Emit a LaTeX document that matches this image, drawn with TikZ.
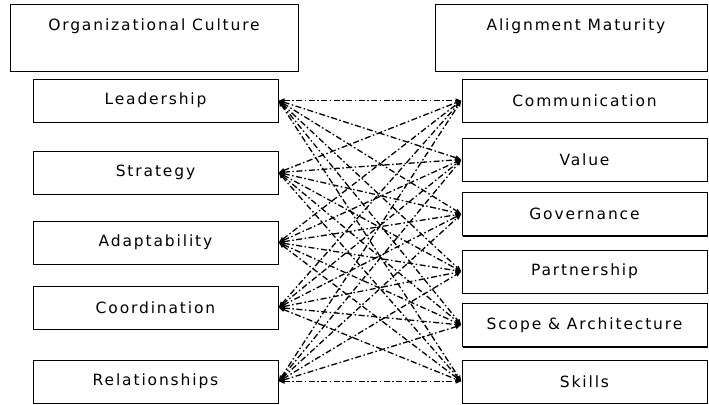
\documentclass[tikz,border=0pt]{standalone}
\usepackage{fontspec}
\setmainfont[LetterSpace=12]{DejaVu Sans}
\usetikzlibrary{arrows.meta,shadows}

\tikzset{
  itembox/.style={draw,line width=1pt,fill=white,minimum width=245pt,minimum height=43pt,
    font=\fontsize{15.5}{18}\selectfont,
    drop shadow={shadow xshift=1.2pt,shadow yshift=-1.2pt,opacity=1,fill=black}},
  headbox/.style={itembox,minimum width=288pt,minimum height=66pt},
  headtext/.style={font=\fontsize{15.5}{18}\selectfont},
  link/.style={dash pattern=on 6pt off 2.5pt on 1.5pt off 2.5pt,line width=1.3pt,
    {Latex[length=6pt,width=5pt]}-{Latex[length=6pt,width=5pt]}}
}

\begin{document}
\begin{tikzpicture}[x=1pt,y=-1pt]
        \useasboundingbox (0,0) rectangle (709,404);

        % headers
        \node[headbox] (orgc) at (154,38) {};
        \node[headtext] (orgctitle) at (154,26) {Organizational Culture};
        \node[headbox,minimum width=272pt] (alm) at (571,38) {};
        \node[headtext] (almtitle) at (576,26) {Alignment Maturity};

        % culture side
        \node[itembox] (lead)  at (155.5,100.5) {Leadership};
        \node[itembox] (strat) at (155.5,172.5) {Strategy};
        \node[itembox] (adapt) at (155.5,242.5) {Adaptability};
        \node[itembox] (coord) at (155.5,307.5) {Coordination};
        \node[itembox] (rel)   at (155.5,381.5) {Relationships};

        % maturity side
        \node[itembox] (comm)  at (584.5,100.5) {Communication};
        \node[itembox] (val)   at (584.5,159.5) {Value};
        \node[itembox] (gov)   at (584.5,214)   {Governance};
        \node[itembox] (part)  at (584.5,271.5) {Partnership};
        \node[itembox] (scope) at (584.5,325)   {Scope \& Architecture};
        \node[itembox] (skill) at (584.5,381.5) {Skills};

        \foreach \a in {lead,strat,adapt,coord,rel}
            \foreach \b in {comm,val,gov,part,scope,skill}
                \draw[link] (\a.east) -- (\b.west);
    \end{tikzpicture}
\end{document}
